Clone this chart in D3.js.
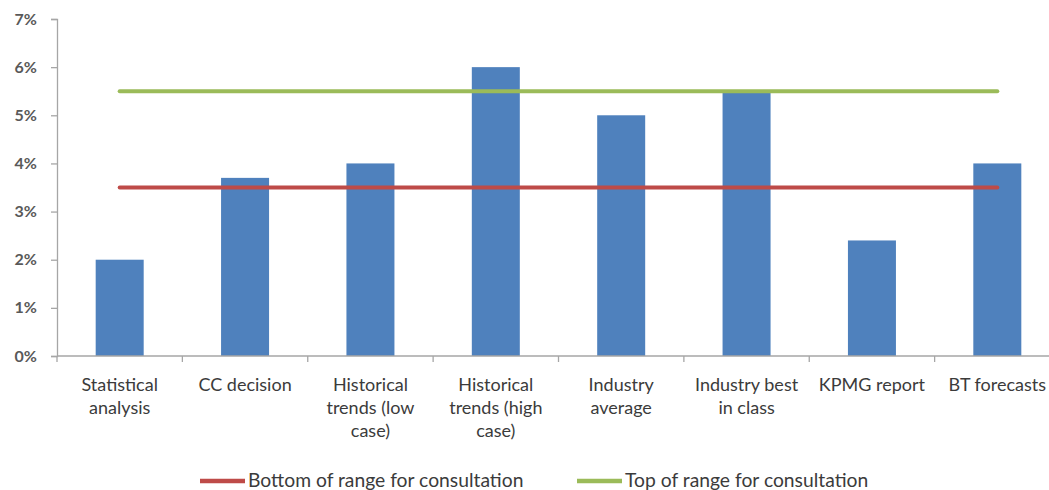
<!DOCTYPE html>
<html><head><meta charset="utf-8">
<script src="https://cdn.jsdelivr.net/npm/d3@7"></script>
<style>body{margin:0;background:#fff}</style>
</head><body>
<svg id="c" width="1049" height="490"></svg>
<script>
const categories = [
  ["Statistical","analysis"],
  ["CC decision"],
  ["Historical","trends (low","case)"],
  ["Historical","trends (high","case)"],
  ["Industry","average"],
  ["Industry best","in class"],
  ["KPMG report"],
  ["BT forecasts"]
];
const catKeys = categories.map(c => c.join(" "));
const values = [0.020, 0.037, 0.040, 0.060, 0.050, 0.055, 0.024, 0.040];
const bottomRange = [0.035,0.035,0.035,0.035,0.035,0.035,0.035,0.035];
const topRange = [0.055,0.055,0.055,0.055,0.055,0.055,0.055,0.055];
const yTicks = [0,0.01,0.02,0.03,0.04,0.05,0.06,0.07];
const seriesNames = ["Bottom of range for consultation","Top of range for consultation"];
const colors = {bar:"#4F81BD", bottom:"#BE4B48", top:"#9BBB59", axis:"#A6A6A6", text:"#3b3b3b"};

const svg = d3.select("#c");
const font = "Lato, 'Open Sans', sans-serif";
const xb = d3.scaleBand().domain(catKeys).range([57, 1060]);
const y = d3.scaleLinear().domain([0, 0.07]).range([356, 19]);

// bars
svg.append("g").selectAll("rect").data(values).join("rect")
  .attr("x", (d,i) => xb(catKeys[i]) + xb.bandwidth()/2 - 24)
  .attr("width", 48)
  .attr("y", d => y(d)).attr("height", d => y(0) - y(d))
  .attr("fill", colors.bar);

// y axis
const ya = svg.append("g").attr("transform","translate(57,0)")
  .call(d3.axisLeft(y).tickValues(yTicks).tickFormat(d3.format(".0%")).tickSize(6).tickPadding(14));
ya.select(".domain").attr("stroke", colors.axis).attr("stroke-width",1.3);
ya.selectAll(".tick line").attr("stroke", colors.axis).attr("stroke-width",1.3);
ya.selectAll("text").attr("font-family", font).attr("font-size", 16).attr("font-weight","bold").attr("fill", "#595959");

// x axis
const xa = svg.append("g").attr("transform","translate(0,356)");
xa.append("line").attr("x1",57).attr("x2",1060).attr("y1",0).attr("y2",0)
  .attr("stroke", colors.axis).attr("stroke-width",1.3);
xa.selectAll("line.t").data(catKeys.concat(["end"])).join("line").attr("class","t")
  .attr("x1",(d,i)=>57 + i*xb.step()).attr("x2",(d,i)=>57 + i*xb.step())
  .attr("y1",0).attr("y2",6).attr("stroke", colors.axis).attr("stroke-width",1.3);
const lbl = xa.selectAll("text").data(categories).join("text")
  .attr("x",(d,i)=>xb(catKeys[i]) + xb.bandwidth()/2)
  .attr("text-anchor","middle").attr("font-family",font).attr("font-size",18)
  .attr("fill", colors.text);
lbl.each(function(d){
  const t = d3.select(this);
  d.forEach((line,j)=> t.append("tspan").attr("x", t.attr("x")).attr("y", 35 + j*23).text(line));
});

// range lines
const line = d3.line().x((d,i)=>xb(catKeys[i]) + xb.bandwidth()/2).y(d=>y(d));
svg.append("path").datum(bottomRange).attr("d", line).attr("fill","none")
  .attr("stroke", colors.bottom).attr("stroke-width",4).attr("stroke-linecap","round");
svg.append("path").datum(topRange).attr("d", line).attr("fill","none")
  .attr("stroke", colors.top).attr("stroke-width",4).attr("stroke-linecap","round");

// legend
const leg = [{name:seriesNames[0], c:colors.bottom, x:200},{name:seriesNames[1], c:colors.top, x:577}];
const lg = svg.append("g");
leg.forEach(l=>{
  lg.append("line").attr("x1",l.x).attr("x2",l.x+45).attr("y1",481).attr("y2",481)
    .attr("stroke",l.c).attr("stroke-width",4.5);
  lg.append("text").attr("x",l.x+48).attr("y",487).attr("font-family",font).attr("font-size",19.3)
    .attr("fill",colors.text).text(l.name);
});
</script>
</body></html>
